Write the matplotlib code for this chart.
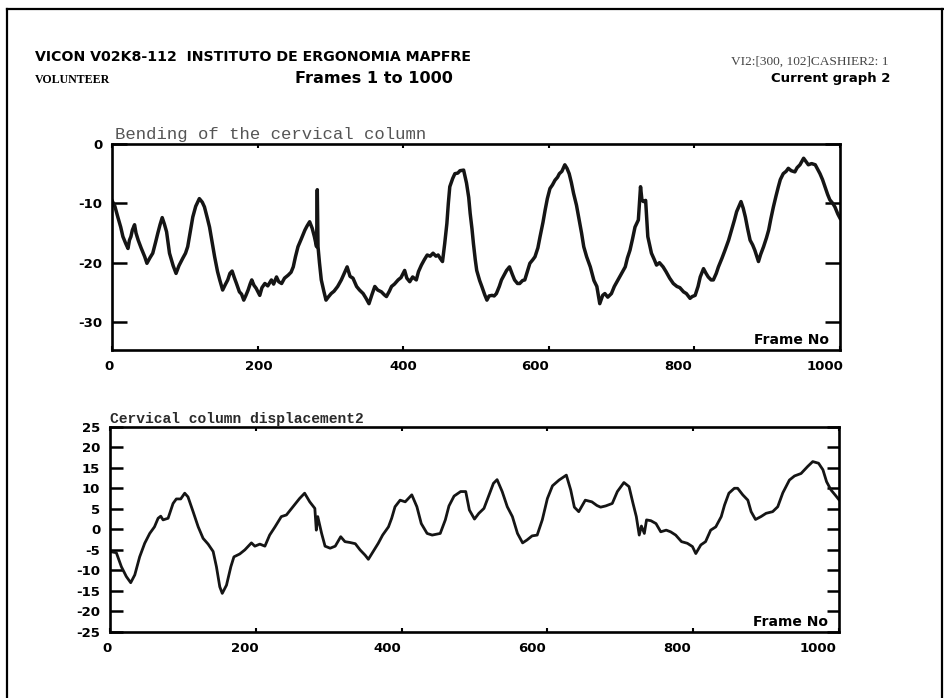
import matplotlib
matplotlib.use("Agg")
import matplotlib.pyplot as plt
from matplotlib.lines import Line2D

# --- data (frame number, value) ---
bend_frames = [0, 4, 8, 12, 15, 19, 22, 24, 26, 28, 31, 33, 36, 40, 45, 48, 52, 56, 60, 63,
               66, 69, 72, 75, 79, 84, 88, 92, 97, 101, 104, 108, 111, 115, 120, 124, 127, 131, 134, 138,
               141, 145, 148, 152, 156, 159, 162, 165, 168, 171, 175, 178, 181, 184, 187, 190, 192, 195, 198, 203,
               206, 210, 214, 219, 222, 226, 229, 233, 237, 242, 246, 249, 252, 255.5, 260, 265, 268, 271.5, 275, 278,
               281, 282, 283, 285, 287.5, 291, 294, 297, 301, 305, 310, 315, 319, 323, 327, 331, 336, 340, 345, 349,
               353, 357, 361, 365, 370, 374, 377, 381, 384, 388, 393, 397, 402, 405, 409, 413, 418, 421, 425, 429,
               433, 437, 441, 445, 448, 451, 454, 457, 460, 462, 464, 468, 471, 475, 478, 483, 487, 490, 492, 494.5,
               496.5, 499, 501, 505, 508, 512, 515, 518, 522, 525, 528, 532, 535, 539, 542, 546, 550, 553, 557, 560,
               564, 567, 571, 574, 578, 581, 585, 588, 592, 595, 598, 601.6, 605, 608.5, 612, 614.5, 618, 622, 625, 628,
               631, 634, 638, 641, 645, 648, 652, 657, 662, 666, 670, 674, 677, 681, 686, 690, 695, 700, 705, 708,
               711.5, 715, 718.4, 723, 726, 728, 730, 733, 736, 741, 745, 748, 752, 757, 761, 766, 771, 776, 780, 785,
               789, 794, 797, 801, 805, 808, 812.5, 816, 819, 823, 826, 830, 833, 838, 842, 847, 851, 855, 858, 864,
               867, 870, 873, 876.5, 880, 883, 888, 891, 895, 899, 902, 905, 908.5, 912, 915.3, 918, 922, 926, 929, 933,
               938, 941, 945, 950, 953, 956.5, 961, 966, 969, 972.5, 976, 979.4, 983, 986, 990, 993, 997, 1000]
bend_values = [-9.5, -10.5, -12.3, -14, -15.6, -16.8, -17.6, -16.2, -15.6, -14.5, -13.6, -15, -16.2, -17.5, -19, -20.1, -19.2, -18.4, -16.5, -15,
               -13.6, -12.4, -13.5, -14.8, -18.4, -20.5, -21.8, -20.5, -19.3, -18.4, -17.3, -14.5, -12.3, -10.5, -9.2, -9.8, -10.6, -12.5, -14, -16.8,
               -19, -21.5, -22.9, -24.6, -23.6, -22.9, -21.8, -21.4, -22.5, -23.5, -24.9, -25.3, -26.3, -25.5, -24.6, -23.5, -22.9, -23.8, -24.3, -25.5,
               -24.2, -23.5, -23.9, -22.9, -23.6, -22.4, -23.2, -23.5, -22.6, -22.1, -21.6, -20.7, -19, -17.3, -16, -14.5, -13.8, -13.1, -14.2, -15.6,
               -17.3, -7.7, -17.3, -20, -22.9, -24.8, -26.3, -25.8, -25.2, -24.8, -24, -22.9, -21.8, -20.7, -22.3, -22.6, -24, -24.6, -25.2, -26,
               -26.9, -25.4, -24, -24.6, -24.9, -25.4, -25.7, -24.8, -24, -23.6, -22.9, -22.5, -21.3, -22.6, -23.2, -22.4, -22.9, -21.5, -20.4, -19.5,
               -18.7, -18.9, -18.4, -18.9, -18.7, -19.3, -19.8, -16.8, -13.4, -10, -7.2, -5.8, -5, -4.9, -4.5, -4.4, -6.6, -9, -11.7, -14.3,
               -16.8, -19.5, -21.3, -23, -24, -25.4, -26.3, -25.6, -25.5, -25.6, -25.2, -24, -22.9, -22, -21.3, -20.7, -22, -22.9, -23.5, -23.5,
               -23, -22.9, -21.3, -20.1, -19.5, -19, -17.5, -15.6, -13.2, -11.1, -9.2, -7.5, -6.9, -6.1, -5.6, -5, -4.6, -3.5, -4.1, -5,
               -6.5, -8.3, -10.3, -12.3, -15, -17.3, -19, -20.7, -23, -24, -26.9, -25.5, -25.2, -25.8, -25.2, -24, -22.9, -21.8, -20.7, -19.2,
               -17.9, -16, -14, -12.8, -7.2, -9.5, -9.7, -9.5, -15.6, -18.4, -19.5, -20.4, -20, -20.7, -21.5, -22.6, -23.5, -24, -24.2, -24.9,
               -25.2, -26, -25.7, -25.5, -24, -22.4, -21, -21.8, -22.4, -22.9, -22.9, -21.8, -20.7, -19.2, -17.9, -16.2, -14.5, -12.8, -11.4, -9.7,
               -10.8, -12.3, -14.2, -16.2, -17, -17.9, -19.8, -18.6, -17.3, -15.8, -14.5, -12.6, -10.6, -8.8, -7.2, -6, -5, -4.6, -4.1, -4.5,
               -4.7, -4, -3.5, -2.4, -2.9, -3.5, -3.3, -3.5, -4.2, -5, -6, -7.2, -8.5, -9.4, -10, -10.6, -11.8, -12.5]

disp_frames = [0, 8.7, 15.6, 22.4, 28.4, 34, 40.7, 47.6, 54.5, 61, 66, 69.6, 72.8, 79.7, 86.5, 91, 97, 102.5, 107, 114,
               121, 127.7, 134.6, 141.5, 146, 150.6, 154, 159.8, 165.8, 170, 178, 185, 194, 198.7, 205.6, 212.5, 219, 226, 235, 242,
               251, 260, 267, 274, 281, 283, 285, 290.3, 295, 302, 309, 316.5, 322.3, 329, 336.5, 343, 350, 354.4, 361, 368,
               374, 382, 386.4, 391, 398, 405, 414, 421, 427, 435, 442, 453, 460, 465, 472, 481, 488, 493, 500, 506,
               513, 520, 526, 531, 538, 545, 552, 559, 566, 572, 579, 586, 593, 600, 607, 616, 626, 632, 637, 643,
               652, 661, 668, 673, 680, 689, 696, 705, 712, 717.5, 722, 726, 729, 733, 736, 742, 749, 755.5, 763, 769,
               776, 784, 792, 799, 803.6, 810.5, 817, 824, 831, 838.5, 843, 849, 856.5, 861, 868, 875, 879.5, 885.5, 893, 900,
               909, 916, 923, 932, 939, 948, 957, 964, 972, 978, 983, 989, 996, 1000]
disp_values = [-5.4, -5.7, -9.1, -11.5, -13, -11.1, -6.7, -3.4, -1, 0.6, 2.7, 3.2, 2.3, 2.7, 6.3, 7.4, 7.4, 8.8, 7.9, 4.3,
               0.6, -2.2, -3.6, -5.4, -9.1, -14, -15.6, -13.6, -9.1, -6.7, -6, -5, -3.3, -4.1, -3.6, -4.1, -1.4, 0.5, 3.1, 3.5,
               5.5, 7.5, 8.8, 6.7, 5.1, -0.2, 3.1, -1, -4.1, -4.6, -4.1, -1.8, -3, -3.2, -3.5, -5, -6.3, -7.3, -5.4, -3.4,
               -1.4, 0.6, 2.7, 5.5, 7.1, 6.7, 8.4, 5.5, 1.4, -1, -1.4, -1, 2.3, 5.7, 8.1, 9.2, 9.2, 4.7, 2.5, 3.9,
               5.1, 8.4, 11.2, 12.1, 9.2, 5.5, 3.1, -1, -3.3, -2.6, -1.6, -1.4, 2.3, 7.5, 10.6, 12, 13.2, 9.6, 5.4, 4.3,
               7.1, 6.7, 5.8, 5.4, 5.7, 6.3, 9.2, 11.4, 10.4, 6.3, 3.1, -1.4, 0.8, -1, 2.3, 2.1, 1.4, -0.6, -0.2, -0.6,
               -1.4, -3, -3.4, -4.2, -5.9, -3.8, -3, -0.2, 0.6, 3.1, 5.9, 8.8, 10, 10, 8.4, 7.1, 4.3, 2.4, 3.1, 3.9,
               4.3, 5.5, 8.9, 12, 13, 13.6, 15.3, 16.5, 16.1, 14.5, 11.6, 9.6, 8.1, 7.2]

x_ticks = [0, 200, 400, 600, 800, 1000]
bend_yticks = [0, -10, -20, -30]
disp_yticks = [25, 20, 15, 10, 5, 0, -5, -10, -15, -20, -25]

# pixel shifts of the printed x labels relative to their ticks
top_label_shift = [-3, 1, 0, -14, -16, -15]
bot_label_shift = [-3, -11, -14, -15, -16, -21]

BOLD = dict(family="DejaVu Sans", weight="bold")

fig = plt.figure(figsize=(9.45, 6.98), dpi=100)
fig.patch.set_facecolor("white")

# outer frame of the printout
fig.add_artist(Line2D([0.007, 0.007], [0, 0.987], color="black", lw=1.6))
fig.add_artist(Line2D([0.007, 1.0], [0.987, 0.987], color="black", lw=1.6))
fig.add_artist(Line2D([0.997, 0.997], [0, 0.987], color="black", lw=1.6))

# header
fig.text(0.037, 0.918, "VICON V02K8-112  INSTITUTO DE ERGONOMIA MAPFRE",
         fontsize=10.2, va="center", **BOLD)
fig.text(0.037, 0.885, "VOLUNTEER", family="Liberation Serif", weight="bold", fontsize=8.6, va="center")
fig.text(0.312, 0.888, "Frames 1 to 1000", fontsize=11.6, va="center", **BOLD)
fig.text(0.940, 0.911, "VI2:[300, 102]CASHIER2: 1", family="Liberation Serif", fontsize=9.6,
         color="#444444", ha="right", va="center")
fig.text(0.942, 0.888, "Current graph 2", fontsize=9.5, ha="right", va="center", **BOLD)


def style_axes(ax, ylim, yticks, ytick_len, shifts, label_pad):
    ax.set_xlim(0, 1000)
    ax.set_ylim(*ylim)
    for s in ax.spines.values():
        s.set_linewidth(1.9)
    ax.set_xticks(x_ticks)
    ax.tick_params(axis="x", direction="in", length=3, width=1.5, top=True, bottom=True,
                   labelbottom=False)
    ax.set_yticks(yticks)
    ax.set_yticklabels([str(t) for t in yticks], **BOLD)
    ax.tick_params(axis="y", direction="in", length=ytick_len, width=1.8, left=True, right=True,
                   pad=7, labelsize=9.5)
    for t, dx in zip(x_ticks, shifts):
        ax.annotate(str(t), xy=(t, 0), xycoords=("data", "axes fraction"),
                    xytext=(dx, -label_pad), textcoords="offset pixels",
                    ha="center", va="top", fontsize=9.5, **BOLD)
    ax.text(0.985, 0.015, "Frame No", transform=ax.transAxes, ha="right", va="bottom",
            fontsize=10, **BOLD)


# top panel: bending
ax1 = fig.add_axes([0.1185, 0.4986, 0.7704, 0.2951])
ax1.plot(bend_frames, bend_values, color="#151515", lw=2.5, solid_joinstyle="round")
style_axes(ax1, (-34.7, 0), bend_yticks, 11, top_label_shift, 10)
ax1.text(0.004, 1.008, "Bending of the cervical column", transform=ax1.transAxes,
         family="Liberation Mono", fontsize=12.4, color="#555555", va="bottom", ha="left")

# bottom panel: displacement
ax2 = fig.add_axes([0.1164, 0.0946, 0.7714, 0.2941])
ax2.plot(disp_frames, disp_values, color="#151515", lw=2.0, solid_joinstyle="round")
style_axes(ax2, (-25, 25), disp_yticks, 9, bot_label_shift, 10)
ax2.text(0.0, 1.005, "Cervical column displacement2", transform=ax2.transAxes,
         family="Liberation Mono", weight="bold", fontsize=10.5, color="#2a2a2a",
         va="bottom", ha="left")

fig.savefig("out.png", dpi=100, facecolor="white")
